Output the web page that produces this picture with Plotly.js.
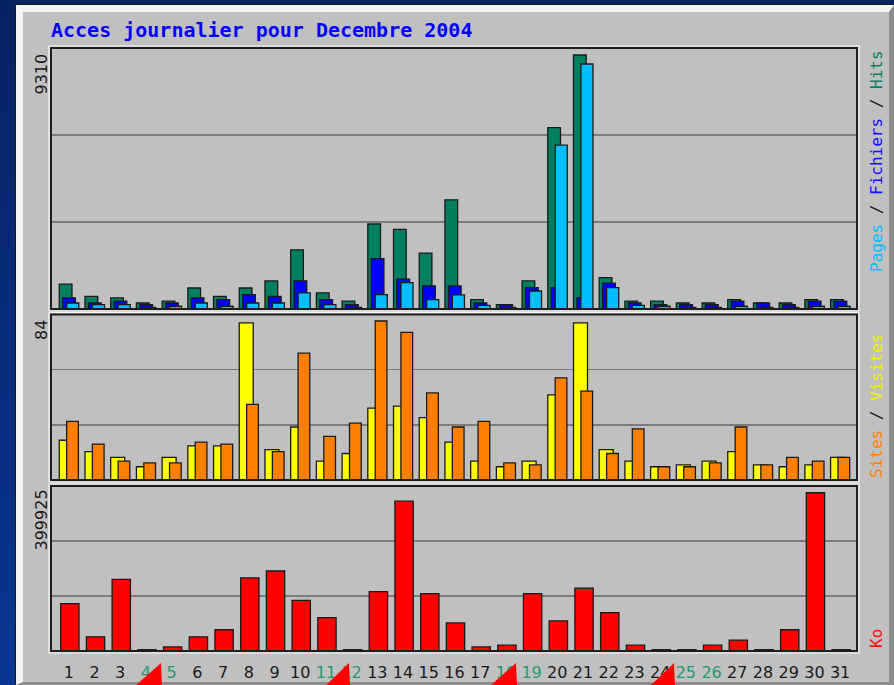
<!DOCTYPE html>
<html>
<head>
<meta charset="utf-8">
<script src="https://cdn.plot.ly/plotly-3.0.1.min.js"></script>
<style>
  html, body { margin:0; padding:0; width:894px; height:685px; overflow:hidden;
    background: linear-gradient(180deg, #062463 0%, #0a3592 100%); }
  #frame { position:absolute; left:16px; top:5px; width:878px; height:680px; box-sizing:border-box;
    background:#c0c0c0; border-left:7px solid #f4f4f4; border-top:7px solid #f4f4f4;
    border-right:5px solid #8c8c8c; border-bottom:3px solid #8c8c8c;
    box-shadow:-1px -1px 0 #1a1a1a; }
  #chart { position:absolute; left:0; top:0; width:894px; height:685px; }
</style>
</head>
<body>
<div id="frame"></div>
<div id="chart"></div>
<script>
// ---- data ----
const days = [1,2,3,4,5,6,7,8,9,10,11,12,13,14,15,16,17,18,19,20,21,22,23,24,25,26,27,28,29,30,31];
const weekendDays = [4,5,11,12,18,19,25,26];
const hits  = [910,465,405,220,285,770,465,770,1030,2170,590,285,3115,2920,2050,4000,340,160,1030,6650,9310,1150,285,285,220,220,340,220,220,340,340];
const files = [405,220,285,160,220,405,340,525,465,1030,340,160,1850,1095,845,845,220,160,785,785,415,945,220,160,160,160,285,220,160,285,285];
const pages = [220,160,160,60,100,220,100,220,220,590,160,60,525,970,340,515,135,60,660,6010,8980,785,135,100,60,60,100,60,60,100,100];
const visits = [21,15,12,7,12,18,18,83,16,28,10,14,38,39,33,20,10,7,10,45,83,16,10,7,8,10,15,8,7,8,12];
const sites  = [31,19,10,9,9,20,19,40,15,67,23,30,84,78,46,28,31,9,8,54,47,14,27,7,7,9,28,8,12,10,12];
const ko = [119500,35800,180900,3500,10200,35800,53700,185000,202100,127900,84400,3500,150200,378700,145100,70900,10200,14600,145100,76000,158600,97200,14600,3500,3500,14600,27400,3500,53700,399925,3500];
const maxLabels = ['9310','84','399925'];
const titleText = 'Acces journalier pour Decembre 2004';

// ---- helpers (pixel -> paper) ----
const W = 894, H = 685;
const px = x => x / W;
const py = y => 1 - y / H;

const hitsMax = Math.max(...hits), visMax = Math.max(...visits, ...sites), koMax = Math.max(...ko);
const R1 = hitsMax * 261 / 254, R2 = visMax * 165.5 / 159, R3 = koMax * 164 / 157.3;

const outline = {color:'#1a1a1a', width:1.3};
function bar(y, yaxis, color, offset, width, name) {
  return {type:'bar', x:days, y:y, yaxis:yaxis, name:name, offset:offset, width:width,
    marker:{color:color, line:outline}, hoverinfo:'skip'};
}
const traces = [
  bar(hits, 'y', '#008060', -0.37, 0.494, 'Hits'),
  bar(files, 'y', '#0000ff', -0.237, 0.494, 'Fichiers'),
  bar(pages, 'y', '#00bfff', -0.082, 0.47, 'Pages'),
  bar(visits, 'y2', '#ffff00', -0.37, 0.545, 'Visites'),
  bar(sites, 'y2', '#ff8000', -0.082, 0.455, 'Sites'),
  bar(ko, 'y3', '#ff0000', -0.315, 0.712, 'Ko')
];

const ticktext = days.map(d => weekendDays.includes(d)
  ? '<span style="color:#1f9a72">' + d + '</span>' : String(d));

const panels = [[48, 309], [314.5, 480], [486, 651]];
const xl = 51, xr = 857;

function yax(R, p) {
  return {domain:[py(p[1]), py(p[0])], range:[0, R], tickvals:[R/3, 2*R/3], showticklabels:false,
    showgrid:true, gridcolor:'#7c7c7c', gridwidth:1.6, zeroline:false, showline:false, ticks:'',
    fixedrange:true};
}

const shapes = [];
panels.forEach(p => {
  shapes.push({type:'rect', xref:'paper', yref:'paper', x0:px(xl-2), x1:px(xr+2), y0:py(p[1]+2), y1:py(p[0]-2),
    line:{color:'#f6f6f6', width:1.2}, layer:'below'});
  shapes.push({type:'rect', xref:'paper', yref:'paper', x0:px(xl), x1:px(xr), y0:py(p[1]), y1:py(p[0]),
    line:{color:'#1e1e1e', width:2}, layer:'above'});
});
// red pointer triangles at the bottom edge
[[135,161],[325,349],[490,516],[650,674]].forEach(t => {
  shapes.push({type:'path', xref:'paper', yref:'paper', layer:'above',
    path:`M ${px(t[1])} ${py(663)} L ${px(t[1]+1)} ${py(686)} L ${px(t[0])} ${py(686)} Z`,
    fillcolor:'#ff0000', line:{width:0}});
});

const annotations = [
  {text:titleText, x:px(49), y:py(30), xref:'paper', yref:'paper', xanchor:'left', yanchor:'middle',
   showarrow:false, font:{family:'DejaVu Sans Mono', size:20, color:'#0000ff', weight:'bold'}},
];
const labelTops = [52, 318, 488];
maxLabels.forEach((t, i) => annotations.push({text:t, textangle:-90, x:px(41), y:py(labelTops[i]),
  xref:'paper', yref:'paper', xanchor:'center', yanchor:'top', showarrow:false,
  font:{family:'DejaVu Sans', size:16, color:'#1a1a1a'}}));
const legFont = {family:'DejaVu Sans Mono', size:16, color:'#1a1a1a'};
annotations.push({text:'<span style="color:#00bfff">Pages</span> / <span style="color:#1010ff">Fichiers</span> / <span style="color:#0a8060">Hits</span>',
  textangle:-90, x:px(876), y:py(161), xref:'paper', yref:'paper', xanchor:'center', yanchor:'middle', showarrow:false, font:legFont});
annotations.push({text:'<span style="color:#ff8000">Sites</span> / <span style="color:#f2f200">Visites</span>',
  textangle:-90, x:px(876), y:py(406), xref:'paper', yref:'paper', xanchor:'center', yanchor:'middle', showarrow:false, font:legFont});
annotations.push({text:'<span style="color:#ff1010">Ko</span>',
  textangle:-90, x:px(876), y:py(639), xref:'paper', yref:'paper', xanchor:'center', yanchor:'middle', showarrow:false, font:legFont});

const layout = {
  width:W, height:H, margin:{l:0, r:0, t:0, b:0, pad:0},
  paper_bgcolor:'rgba(0,0,0,0)', plot_bgcolor:'rgba(0,0,0,0)',
  barmode:'overlay', showlegend:false, bargap:0,
  xaxis:{domain:[px(xl), px(xr)], range:[0.308, 31.657], anchor:'y3', tickvals:days, ticktext:ticktext,
    tickfont:{family:'DejaVu Sans', size:16, color:'#1a1a1a'}, ticks:'', ticklen:0, ticklabelstandoff:10,
    showgrid:false, zeroline:false, showline:false, fixedrange:true, automargin:false},
  yaxis:yax(R1, panels[0]),
  yaxis2:yax(R2, panels[1]),
  yaxis3:yax(R3, panels[2]),
  shapes:shapes, annotations:annotations
};
Plotly.newPlot('chart', traces, layout, {displayModeBar:false, staticPlot:true});
</script>
</body>
</html>
